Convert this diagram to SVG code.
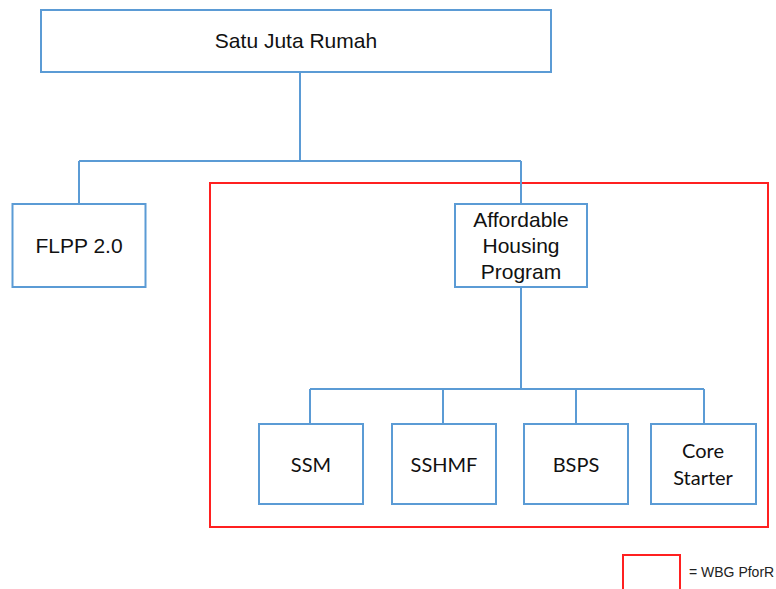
<svg xmlns="http://www.w3.org/2000/svg" width="776" height="589" viewBox="0 0 776 589">
<style>
.box{fill:#fff;stroke:#5b9bd5;stroke-width:2}
.red{fill:none;stroke:#ff2020;stroke-width:2}
.conn{fill:none;stroke:#5b9bd5;stroke-width:2}
.t{font-family:"Liberation Sans",Arial,sans-serif;font-size:21px;fill:#111;text-anchor:middle}
.c{font-family:Lato,"Liberation Sans",sans-serif;font-size:20px;fill:#111;text-anchor:middle}
.l{font-family:"Liberation Sans",Arial,sans-serif;font-size:14px;fill:#222}
</style>
<rect id="pforr-region" class="red" x="210" y="183" width="558" height="344"/>
<g id="connectors">
<path class="conn" d="M300 72V161M79 161H521M79 161V204M521 161V204"/>
<path class="conn" d="M521 287V389M310 389H704M310 389V424M443 389V424M576 389V424M704 389V424"/>
</g>
<g id="satu-juta-rumah"><rect class="box" x="41" y="10" width="510" height="62"/><text class="t" x="296" y="48">Satu Juta Rumah</text></g>
<g id="flpp"><rect class="box" x="12.5" y="204" width="133" height="83"/><text class="t" x="79" y="253">FLPP 2.0</text></g>
<g id="ahp"><rect class="box" x="455" y="204" width="132" height="83"/><text class="t" x="521" y="227">Affordable</text><text class="t" x="521" y="253">Housing</text><text class="t" x="521" y="279">Program</text></g>
<g id="ssm"><rect class="box" x="259" y="424" width="104" height="80"/><text class="c" x="311" y="472">SSM</text></g>
<g id="sshmf"><rect class="box" x="392" y="424" width="104" height="80"/><text class="c" x="444" y="472">SSHMF</text></g>
<g id="bsps"><rect class="box" x="524" y="424" width="104" height="80"/><text class="c" x="576" y="472">BSPS</text></g>
<g id="core-starter"><rect class="box" x="651" y="424" width="105" height="80"/><text class="c" x="703" y="458">Core</text><text class="c" x="703" y="485">Starter</text></g>
<g id="legend"><path class="red" d="M623 589V555H680V589"/><text class="l" x="689" y="577">= WBG PforR</text></g>
</svg>
